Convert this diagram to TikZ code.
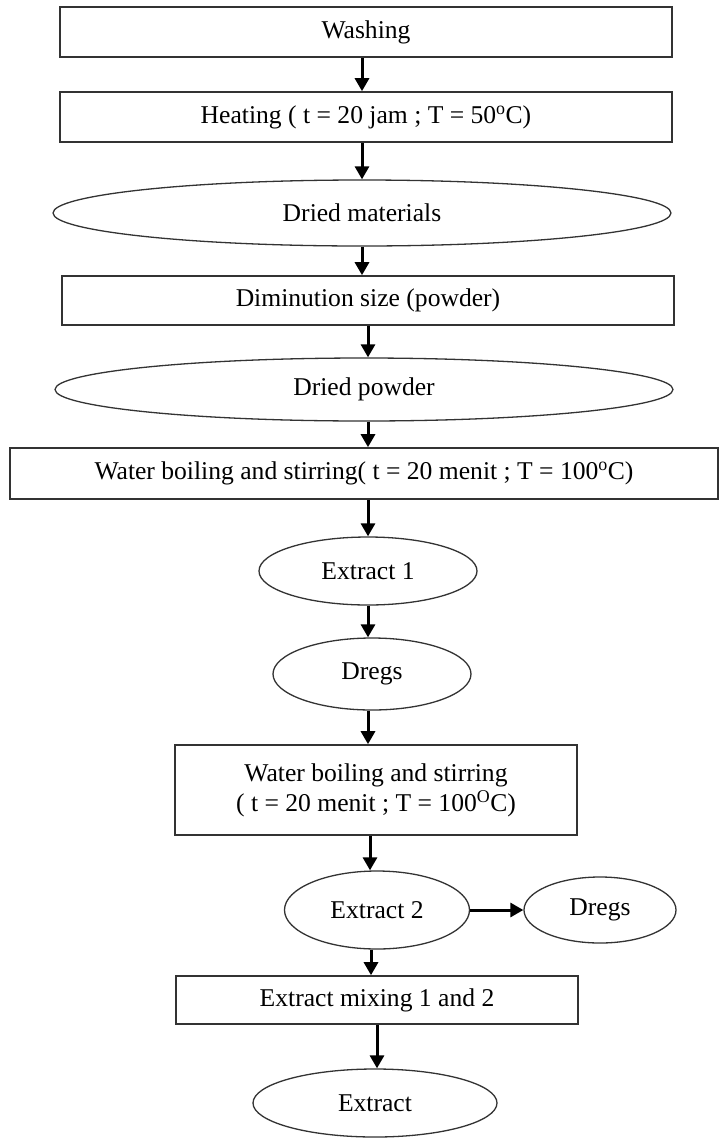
\documentclass[tikz,border=0pt]{standalone}
\usepackage{fontspec}
\setmainfont{Liberation Serif}
\usetikzlibrary{shapes.geometric,arrows.meta}
\begin{document}
\begin{tikzpicture}[x=1pt,y=-1pt,
  txt/.style={font=\fontsize{25.6}{30}\selectfont,text=black,inner sep=0pt},
  box/.style={txt,draw=black!80,line width=1.6pt,rectangle},
  oval/.style={txt,draw=black!80,line width=1.3pt,ellipse},
  arr/.style={draw=black,line width=3pt,-{Triangle[length=13pt,width=14pt]}}]
\useasboundingbox (0,0) rectangle (719,1144);
\fill[white] (0,0) rectangle (719,1144);

\node[box,minimum width=612pt,minimum height=50pt] (wash) at (366,32) {Washing};
\node[box,minimum width=612pt,minimum height=50pt] (heat) at (366,117) {Heating ( t = 20 jam ; T = 50\textsuperscript{o}C)};
\node[oval,minimum width=618pt,minimum height=66pt] (dmat) at (362,213) {Dried materials};
\node[box,minimum width=612pt,minimum height=49pt] (dimi) at (368,300.5) {Diminution size (powder)};
\node[oval,minimum width=618pt,minimum height=63pt] (dpow) at (364,389.5) {Dried powder};
\node[box,minimum width=708pt,minimum height=51pt] (wb1) at (364,473.5) {Water boiling and stirring( t = 20 menit ; T = 100\textsuperscript{o}C)};
\node[oval,minimum width=218pt,minimum height=68pt] (ex1) at (368,571) {Extract 1};
\node[oval,minimum width=198pt,minimum height=72pt] (dr1) at (372,674) {Dregs};
\node[box,minimum width=402pt,minimum height=90pt,align=center] (wb2) at (376,790) {Water boiling and stirring\\( t = 20 menit ; T = 100\textsuperscript{O}C)};
\node[oval,minimum width=185pt,minimum height=78pt] (ex2) at (377,910) {Extract 2};
\node[oval,minimum width=152pt,minimum height=66pt] (dr2) at (600,910) {Dregs};
\node[box,minimum width=402pt,minimum height=48pt] (mix) at (377,1000) {Extract mixing 1 and 2};
\node[oval,minimum width=244pt,minimum height=68pt] (ext) at (375,1103) {Extract};

\draw[arr] ([xshift=-4pt]wash.south) -- ([xshift=-4pt]wash.south |- heat.north);
\draw[arr] ([xshift=-4pt]heat.south) -- ([xshift=-4pt]heat.south |- dmat.north);
\draw[arr] (dmat.south) -- (dmat.south |- dimi.north);
\draw[arr] (dimi.south) -- (dimi.south |- dpow.north);
\draw[arr] ([xshift=4pt]dpow.south) -- ([xshift=4pt]dpow.south |- wb1.north);
\draw[arr] (ex1.north |- wb1.south) -- (ex1.north);
\draw[arr] (ex1.south) -- (dr1.north -| ex1.south);
\draw[arr] (dr1.south -| ex1.south) -- (wb2.north -| ex1.south);
\draw[arr] ([xshift=-6pt]wb2.south) -- ([xshift=-6pt]wb2.south |- ex2.north);
\draw[arr] (ex2.east) -- (dr2.west);
\draw[arr] ([xshift=-6pt]ex2.south) -- ([xshift=-6pt]ex2.south |- mix.north);
\draw[arr] (mix.south) -- (mix.south |- ext.north);
\end{tikzpicture}
\end{document}
